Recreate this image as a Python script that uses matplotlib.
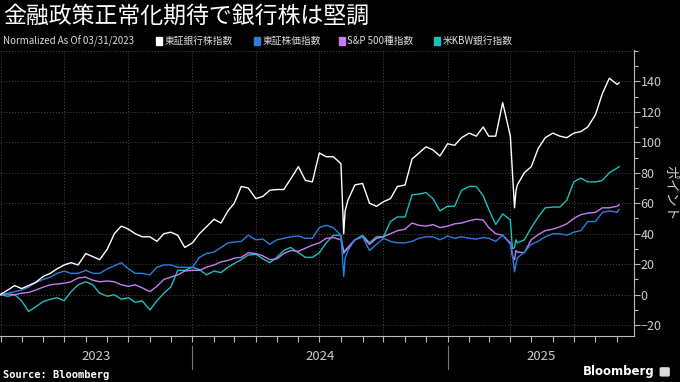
import pandas as pd
import numpy as np
import matplotlib
matplotlib.use("Agg")
import matplotlib.pyplot as plt
import matplotlib.dates as mdates
from matplotlib.ticker import MultipleLocator
from matplotlib.patches import Rectangle, FancyBboxPatch

plt.rcParams['font.family'] = ['Noto Sans CJK JP', 'DejaVu Sans']

# data, normalized to 0 as of 03/31/2023
dates = [
    "2023-03-31", "2023-04-11", "2023-04-21",
    "2023-05-01", "2023-05-11", "2023-05-21",
    "2023-06-01", "2023-06-11", "2023-06-21",
    "2023-07-01", "2023-07-11", "2023-07-21",
    "2023-08-01", "2023-08-11", "2023-08-21",
    "2023-09-01", "2023-09-11", "2023-09-21",
    "2023-10-01", "2023-10-11", "2023-10-21",
    "2023-11-01", "2023-11-11", "2023-11-21",
    "2023-12-01", "2023-12-11", "2023-12-21",
    "2024-01-01", "2024-01-11", "2024-01-21",
    "2024-02-01", "2024-02-11", "2024-02-21",
    "2024-03-01", "2024-03-11", "2024-03-21",
    "2024-04-01", "2024-04-11", "2024-04-21",
    "2024-05-01", "2024-05-11", "2024-05-21",
    "2024-06-01", "2024-06-11", "2024-06-21",
    "2024-07-01", "2024-07-11", "2024-07-21",
    "2024-08-01", "2024-08-05", "2024-08-07", "2024-08-11", "2024-08-21",
    "2024-09-01", "2024-09-11", "2024-09-21",
    "2024-10-01", "2024-10-11", "2024-10-21",
    "2024-11-01", "2024-11-11", "2024-11-21",
    "2024-12-01", "2024-12-11", "2024-12-21",
    "2025-01-01", "2025-01-11", "2025-01-21",
    "2025-02-01", "2025-02-11", "2025-02-21",
    "2025-03-01", "2025-03-11", "2025-03-21",
    "2025-04-01", "2025-04-04", "2025-04-07", "2025-04-09", "2025-04-11", "2025-04-21",
    "2025-05-01", "2025-05-11", "2025-05-21",
    "2025-06-01", "2025-06-11", "2025-06-21",
    "2025-07-01", "2025-07-11", "2025-07-21",
    "2025-08-01", "2025-08-11", "2025-08-21",
    "2025-09-01", "2025-09-04",
]

topix_banks = [
    0, 3, 6,
    4, 6, 8,
    12, 14, 17,
    19.5, 21, 19.5,
    27, 25, 23,
    30, 40, 45,
    43, 40, 38,
    38, 35, 40,
    41, 39, 31,
    34, 40, 44.5,
    49.5, 47, 55,
    60, 71, 70,
    63, 64.5, 68.5,
    69, 69, 76,
    84, 75, 74,
    93, 90.5, 90.5,
    86, 40, 55, 62, 72,
    73, 60, 58,
    61, 63, 71,
    72, 89, 93,
    97, 95, 91,
    99, 98, 103,
    106, 104, 110,
    104, 104, 126,
    104, 80, 57, 68, 72, 80,
    84, 96, 103,
    106, 104, 103,
    106, 107, 110,
    118, 132, 142,
    138, 139,
]

topix = [
    0, 1, 2,
    3, 5, 8,
    10, 11.5, 14,
    15.5, 14, 14,
    16, 14, 14,
    17, 19, 21,
    17, 14, 14,
    13, 18, 19.5,
    19.5, 18, 18,
    18, 24.5, 27,
    28, 31, 34,
    34.5, 35, 39,
    36, 36.5, 33,
    36, 37, 38,
    38.5, 37, 37,
    44, 45.5, 44,
    39, 12, 24, 29, 36,
    38, 29, 33,
    37, 35, 34,
    34, 35, 37,
    38, 38, 36,
    38.5, 37, 38,
    37, 36.5, 37.5,
    37, 35, 39,
    33, 27, 15, 20, 24, 28,
    33, 35, 38,
    40, 40, 39,
    41, 42, 48,
    48, 54, 55,
    54, 56,
]

spx = [
    0, 0.5, 0,
    1, 1.5, 3,
    5, 6.5, 7,
    7.5, 8.5, 11,
    11.5, 9.5, 8.5,
    9, 8.5, 6.5,
    5.5, 6.5, 4.5,
    2, 5.5, 10,
    11.5, 13, 15.5,
    16, 16, 18,
    19.5, 21.5, 22.5,
    24, 24.5, 27.5,
    27, 25.5, 23,
    23.5, 27, 29,
    28.5, 30.5, 32.5,
    34, 37, 37.5,
    36, 28, 29, 31, 36,
    38, 33, 37,
    38, 40, 42,
    43, 47, 45.5,
    45, 46, 44,
    45, 46.5, 47,
    48.5, 49.5, 49,
    44, 40, 39,
    34, 25, 23, 29, 28, 27.5,
    36, 39.5, 42,
    43, 44.5, 46.5,
    50, 52.5, 53.5,
    54, 57, 57,
    58, 59,
]

kbw = [
    0, -1, 0,
    -4, -11, -8,
    -4.5, -3, -2,
    -4, 2, 6.5,
    8.5, 6.5, 1,
    -1, 0, -3,
    -2, -5, -4,
    -10, -4, 1,
    5, 16, 16,
    18, 16.5, 13,
    15.5, 14.5, 18,
    20.5, 23, 26,
    26.5, 23.5, 21,
    24.5, 29, 31,
    27.5, 24.5, 24.5,
    27.5, 34, 39,
    39, 27, 28.5, 30.5, 36,
    39, 34, 38,
    38, 48, 51,
    51, 65.5, 66,
    67, 63, 55,
    58, 58, 68.5,
    71, 71, 65,
    56, 46, 53,
    49, 30, 31, 36, 34, 36,
    44, 51, 57,
    57.5, 57.5, 62,
    74, 76.5, 74,
    74, 75, 80,
    83, 84,
]

names = ["東証銀行株指数", "東証株価指数", "S&P 500種指数", "米KBW銀行指数"]
colors = ["#ffffff", "#2b7de0", "#c67cf2", "#1cbfbf"]
years = [2023, 2024, 2025]

x = pd.to_datetime(dates)
start = pd.Timestamp("2023-03-31")
end = pd.Timestamp("2025-09-25")

fig = plt.figure(figsize=(6.8, 3.82), dpi=100, facecolor="black")
ax = fig.add_axes([0, 0.12, 0.932, 0.749])
ax.set_facecolor("black")

series = [topix_banks, topix, spx, kbw]
for vals, c in reversed(list(zip(series, colors))):
    ax.plot(x, vals, color=c, lw=1.0)

ax.set_xlim(start, end)
ax.set_ylim(-27.2, 160.5)

# right axis
ax.yaxis.tick_right()
ax.set_yticks(range(-20, 141, 20))
ax.yaxis.set_minor_locator(MultipleLocator(10))
ax.tick_params(axis="y", which="both", colors="#bbbbbb", labelcolor="#cccccc",
               labelsize=9, length=4, width=0.8, pad=1)
ax.tick_params(axis="y", which="minor", length=3)

# bottom axis: quarterly gridlines, monthly ticks
ax.xaxis.set_major_locator(mdates.MonthLocator(bymonth=[1, 4, 7, 10]))
ax.xaxis.set_minor_locator(mdates.MonthLocator())
ax.tick_params(axis="x", which="both", colors="#bbbbbb", length=4, width=0.8,
               labelbottom=False)

ax.grid(True, which="major", color="#4a4a4a", ls=(0, (1, 2)), lw=0.7)
ax.axhline(160, color="#4a4a4a", ls=(0, (1, 2)), lw=0.7)

for s in ["left", "top"]:
    ax.spines[s].set_visible(False)
for s in ["right", "bottom"]:
    ax.spines[s].set_color("#bbbbbb")
    ax.spines[s].set_linewidth(0.8)

# year labels and separators below the axis
trans = ax.get_xaxis_transform()
for yr in years:
    a = max(pd.Timestamp(f"{yr}-01-01"), start)
    b = min(pd.Timestamp(f"{yr + 1}-01-01"), end)
    mid = a + (b - a) / 2
    ax.text(mid, -0.072, str(yr), transform=trans, ha="center", va="center",
            color="#cccccc", fontsize=9.5)
    if yr > years[0]:
        ax.plot([a, a], [-0.035, -0.115], transform=trans, color="#777777",
                lw=0.8, clip_on=False)

fig.text(0.985, 0.495, "ポイント", rotation=270, ha="center", va="center",
         color="#cccccc", fontsize=10)

# title and legend row
fig.text(0.004, 0.958, "金融政策正常化期待で銀行株は堅調", color="white",
         fontsize=16.5, ha="left", va="center")
ly = 0.893
fig.text(0.004, ly, "Normalized As Of 03/31/2023", color="#dddddd",
         fontsize=7, ha="left", va="center")
leg_x = [0.229, 0.373, 0.498, 0.638]
for lx, name, c in zip(leg_x, names, colors):
    fig.patches.append(Rectangle((lx, ly - 0.011), 0.0095, 0.02, color=c,
                                 transform=fig.transFigure))
    fig.text(lx + 0.013, ly, name, color="#dddddd", fontsize=7,
             ha="left", va="center")

fig.text(0.004, 0.004, "Source: Bloomberg", color="white", fontsize=7.5,
         fontweight="bold", family="DejaVu Sans Mono", ha="left", va="bottom")
fig.text(0.963, 0.01, "Bloomberg", color="white", fontsize=8.5,
         fontweight="bold", family="DejaVu Sans", ha="right", va="bottom")
fig.patches.append(FancyBboxPatch((0.973, 0.018), 0.009, 0.017,
                                  boxstyle="round,pad=0.002", color="#dddddd",
                                  transform=fig.transFigure))

fig.savefig("out.png", dpi=100, facecolor="black")
